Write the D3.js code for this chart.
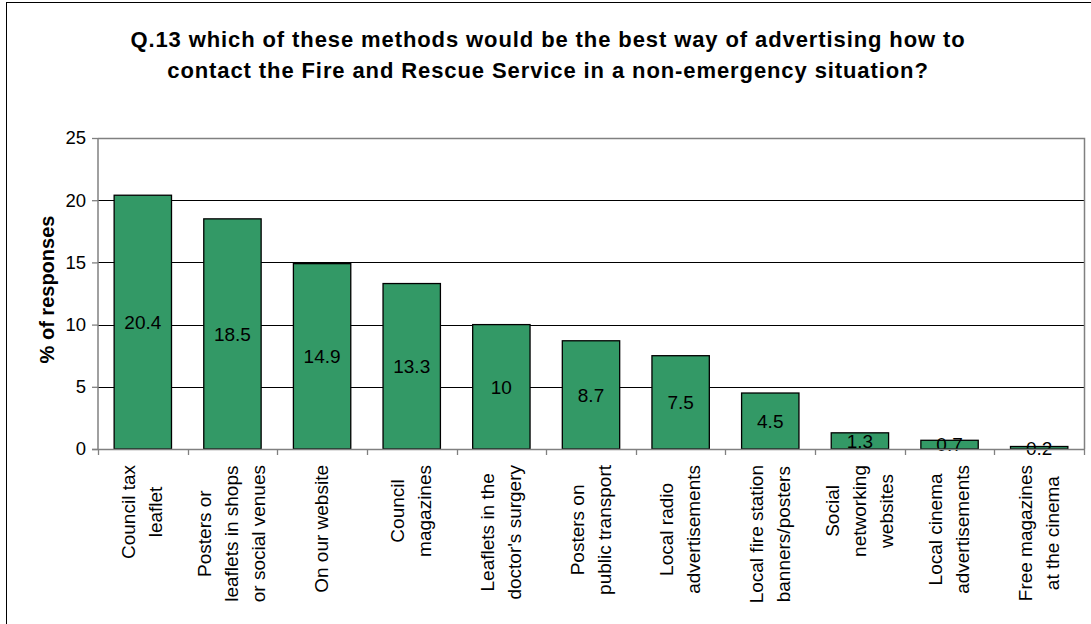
<!DOCTYPE html>
<html>
<head>
<meta charset="utf-8">
<script src="https://cdn.jsdelivr.net/npm/d3@7"></script>
<style>
  html, body { margin: 0; padding: 0; background: #fff; }
  svg { display: block; font-family: "Liberation Sans", Arial, sans-serif; }
</style>
</head>
<body>
<svg id="chart" width="1091" height="624"></svg>
<script>
// Survey responses, one bar per advertising method
const categories = [
  ["Council tax", "leaflet"],
  ["Posters or", "leaflets in shops", "or social venues"],
  ["On our website"],
  ["Council", "magazines"],
  ["Leaflets in the", "doctor's surgery"],
  ["Posters on", "public transport"],
  ["Local radio", "advertisements"],
  ["Local fire station", "banners/posters"],
  ["Social", "networking", "websites"],
  ["Local cinema", "advertisements"],
  ["Free magazines", "at the cinema"]
];
const values = [20.4, 18.5, 14.9, 13.3, 10, 8.7, 7.5, 4.5, 1.3, 0.7, 0.2];
const yTicks = [0, 5, 10, 15, 20, 25];
const titleLines = [
  "Q.13 which of these methods would be the best way of advertising how to",
  "contact the Fire and Rescue Service in a non-emergency situation?"
];
const yLabel = "% of responses";

const svg = d3.select("#chart");

// Outer chart frame
svg.append("rect")
  .attr("x", 6.5).attr("y", 2.5)
  .attr("width", 1100).attr("height", 640)
  .attr("fill", "none").attr("stroke", "#000").attr("stroke-width", 1);

const plot = { left: 98, right: 1084, top: 138, bottom: 449 };

const x = d3.scaleBand()
  .domain(d3.range(categories.length))
  .range([plot.left, plot.right])
  .paddingInner(0.36).paddingOuter(0.18);

const xTicks = d3.scaleBand()
  .domain(d3.range(categories.length))
  .range([plot.left, plot.right]);

const y = d3.scaleLinear().domain([0, 25]).range([plot.bottom, plot.top]);

// Title
svg.append("g").selectAll("text").data(titleLines).join("text")
  .attr("x", 548).attr("y", (d, i) => 47 + i * 31)
  .attr("text-anchor", "middle")
  .attr("font-size", 22).attr("font-weight", "bold")
  .attr("letter-spacing", 0.9)
  .attr("fill", "#000")
  .text(d => d);

// Gridlines
svg.append("g").selectAll("line").data(yTicks.filter(t => t > 0 && t < 25)).join("line")
  .attr("x1", plot.left).attr("x2", plot.right)
  .attr("y1", d => Math.round(y(d)) + 0.5).attr("y2", d => Math.round(y(d)) + 0.5)
  .attr("stroke", "#000").attr("stroke-width", 1);

// Plot area border (top and right)
svg.append("path")
  .attr("d", `M${plot.left},${plot.top + 0.5}H${plot.right + 0.5}V${plot.bottom}`)
  .attr("fill", "none").attr("stroke", "#808080").attr("stroke-width", 1.5);

// Bars
svg.append("g").selectAll("rect").data(values).join("rect")
  .attr("x", (d, i) => x(i))
  .attr("y", d => y(d))
  .attr("width", x.bandwidth())
  .attr("height", d => y(0) - y(d))
  .attr("fill", "#339966")
  .attr("stroke", "#000").attr("stroke-width", 1.3);

// Value labels centred in each bar
svg.append("g").selectAll("text").data(values).join("text")
  .attr("x", (d, i) => x(i) + x.bandwidth() / 2)
  .attr("y", d => (y(d) + y(0)) / 2)
  .attr("dy", "0.36em")
  .attr("text-anchor", "middle")
  .attr("font-size", 19).attr("fill", "#000")
  .text(d => d);

// Y axis
const yAxis = d3.axisLeft(y).tickValues(yTicks).tickSize(6).tickPadding(6).tickFormat(d3.format("d"));
const gy = svg.append("g").attr("transform", `translate(${plot.left},0)`).call(yAxis);
gy.select(".domain").attr("stroke", "#808080").attr("stroke-width", 1.5)
  .attr("d", `M0,${plot.top}V${plot.bottom}`);
gy.selectAll(".tick line").attr("stroke", "#808080").attr("stroke-width", 1.3);
gy.selectAll(".tick text").attr("font-size", 18.5).attr("fill", "#000")
  .attr("font-family", "Liberation Sans, Arial, sans-serif");

// X axis: tick marks at category boundaries
const gx = svg.append("g");
gx.append("line")
  .attr("x1", plot.left - 6).attr("x2", plot.right + 1)
  .attr("y1", plot.bottom + 0.5).attr("y2", plot.bottom + 0.5)
  .attr("stroke", "#808080").attr("stroke-width", 1.5);
const boundaries = d3.range(categories.length + 1).map(i =>
  i < categories.length ? xTicks(i) : xTicks(i - 1) + xTicks.bandwidth());
gx.selectAll("line.tk").data(boundaries).join("line").attr("class", "tk")
  .attr("x1", d => Math.round(d) + 0.5).attr("x2", d => Math.round(d) + 0.5)
  .attr("y1", plot.bottom).attr("y2", plot.bottom + 6)
  .attr("stroke", "#808080").attr("stroke-width", 1.3);

// Rotated category labels, lines centred on one another, top-aligned below axis
const labelTop = 465;
const lineGap = 27;
const lg = svg.append("g");
categories.forEach((lines, i) => {
  const cx = x(i) + x.bandwidth() / 2;
  const g = lg.append("g");
  const texts = g.selectAll("text").data(lines).join("text")
    .attr("font-size", 19).attr("fill", "#000")
    .attr("text-anchor", "middle")
    .text(d => d);
  let maxW = 0;
  texts.each(function() { maxW = Math.max(maxW, this.getComputedTextLength()); });
  const n = lines.length;
  const cy = labelTop + maxW / 2;
  texts.attr("transform", (d, j) => {
    const off = (j - (n - 1) / 2) * lineGap;
    return `translate(${cx + off + 6},${cy}) rotate(-90)`;
  });
});

// Y axis title
svg.append("text")
  .attr("transform", `translate(54,${(plot.top + plot.bottom) / 2 - 4}) rotate(-90)`)
  .attr("text-anchor", "middle")
  .attr("font-size", 20).attr("font-weight", "bold").attr("fill", "#000")
  .text(yLabel);
</script>
</body>
</html>
